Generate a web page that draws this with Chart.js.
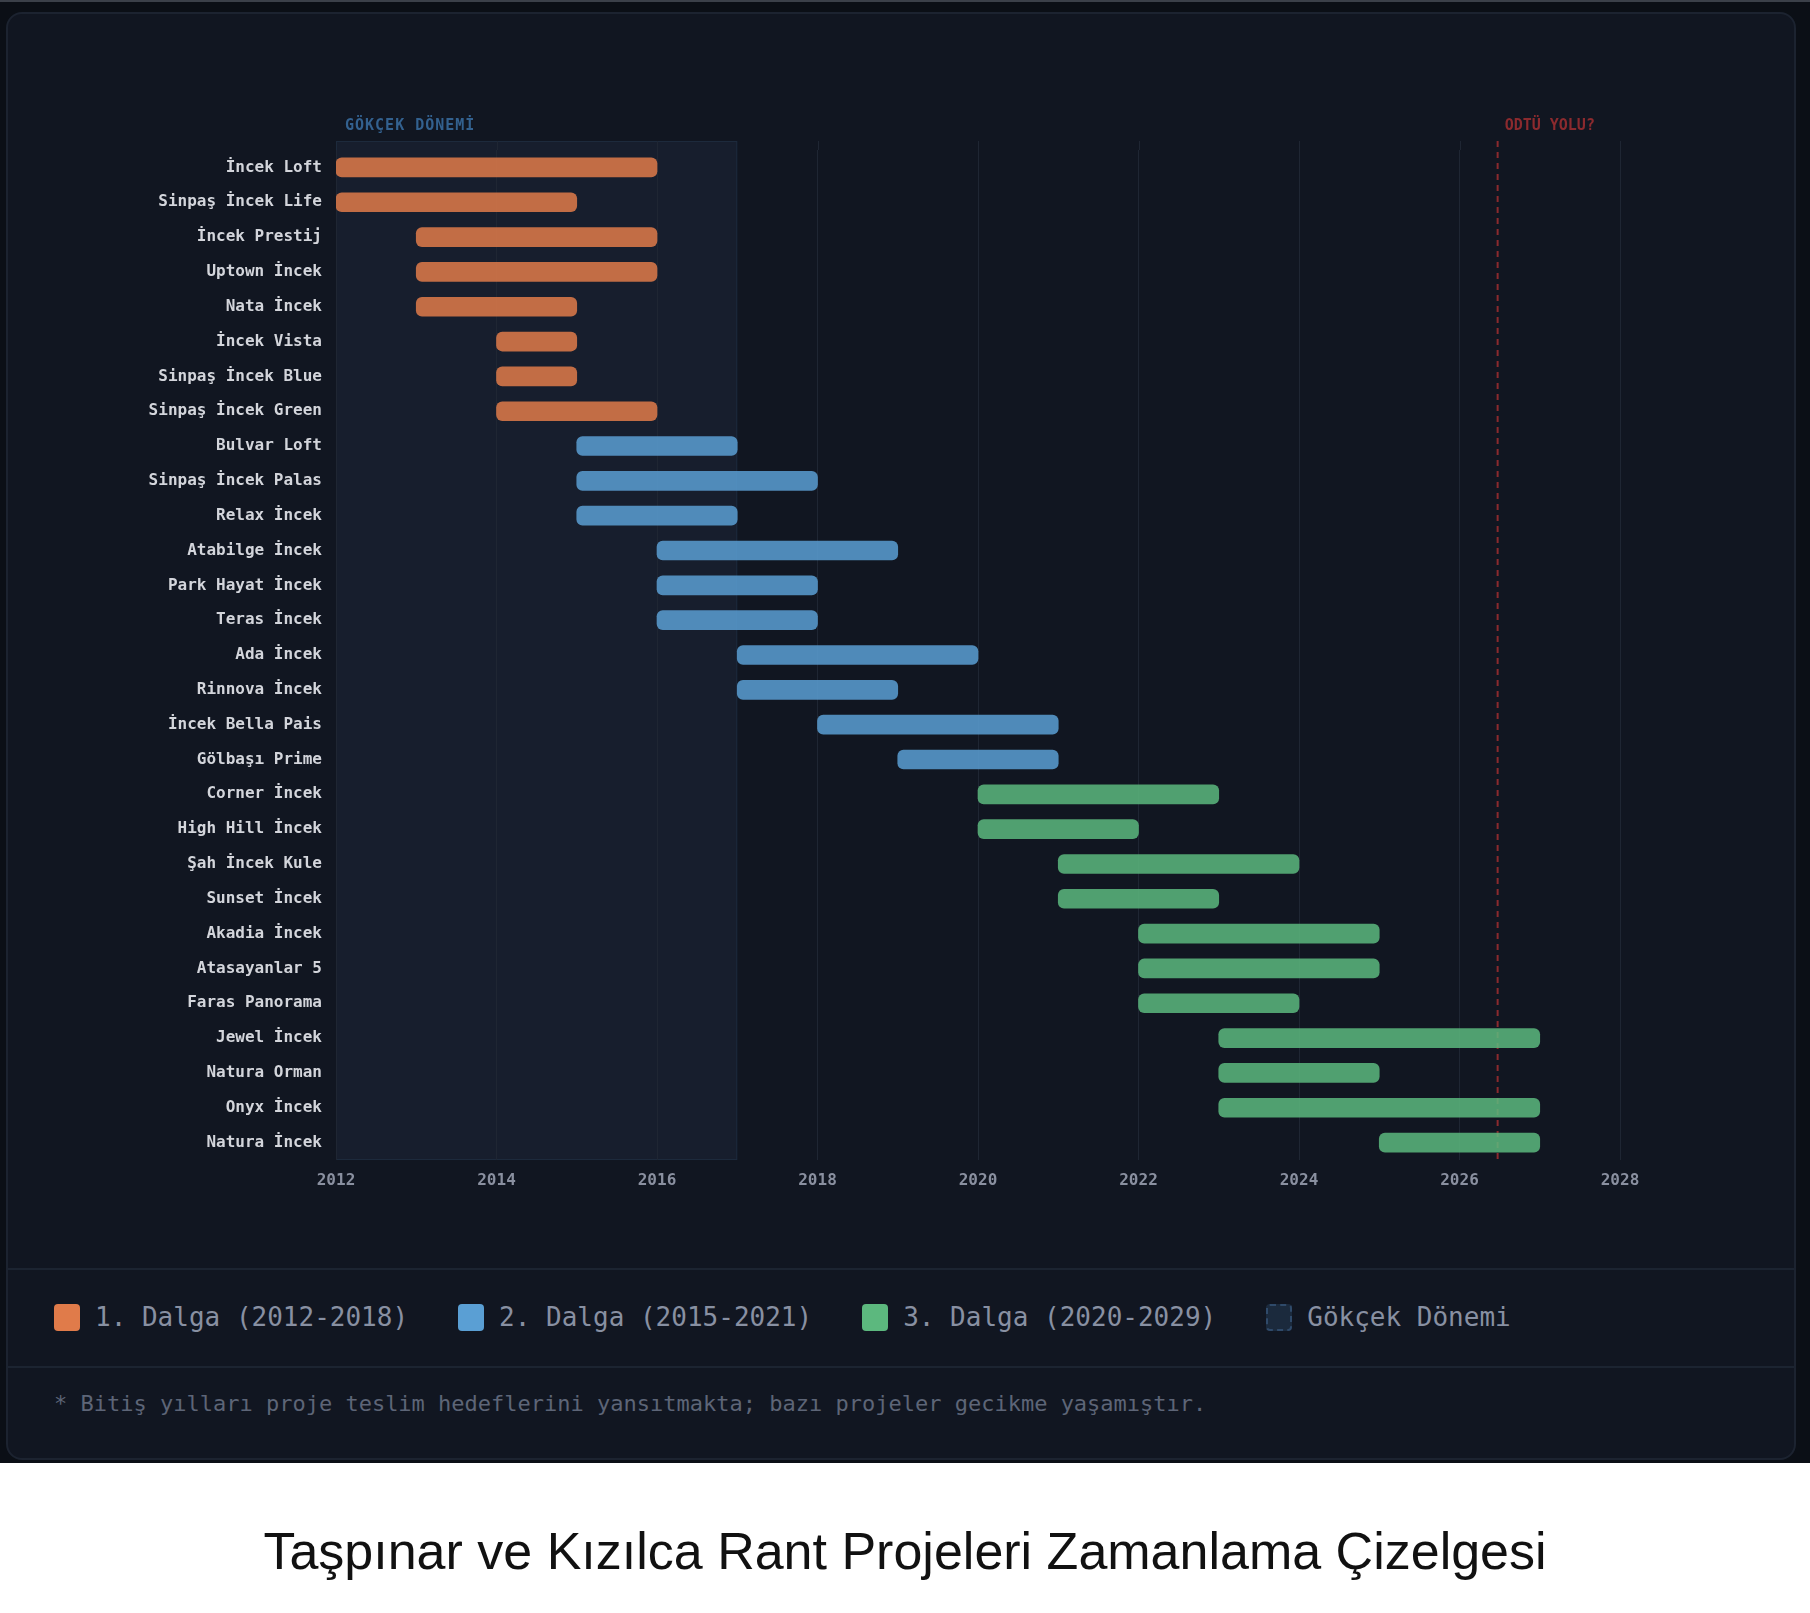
<!DOCTYPE html>
<html>
<head>
<meta charset="utf-8">
<script src="https://cdn.jsdelivr.net/npm/chart.js@4.4.1/dist/chart.umd.min.js"></script>
<style>
    body { margin: 0; background: #ffffff; }
    #page { position: relative; width: 1810px; height: 1613px; }
    #frame { position: absolute; left: 0; top: 0; width: 1810px; height: 1463px; background: #0b0f16; border-top: 2px solid #3b4049; box-sizing: border-box; }
    #card { position: absolute; left: 6px; top: 12px; width: 1790px; height: 1448px; background: #111621; border: 2px solid #1c2330; border-radius: 16px; box-sizing: border-box; }
    #chartBox { position: absolute; left: 0; top: 0; width: 1810px; height: 1265px; }
    .sep { position: absolute; left: 8px; width: 1786px; height: 2px; background: #1c2431; }
    #legend { position: absolute; left: 54px; top: 1303px; height: 28px; display: flex; align-items: center; font-family: "DejaVu Sans Mono", monospace; font-size: 26px; color: #8890a2; }
    .item { display: flex; align-items: center; margin-right: 50px; white-space: nowrap; }
    .swatch { width: 26px; height: 27px; border-radius: 4px; margin-right: 15px; box-sizing: border-box; }
    #note { position: absolute; left: 54px; top: 1391px; font-family: "DejaVu Sans Mono", monospace; font-size: 22px; color: #5d6577; white-space: nowrap; }
    #caption { position: absolute; left: 0; width: 1810px; top: 1521px; text-align: center; font-family: "Liberation Sans", Arial, sans-serif; font-size: 52px; color: #111111; }
</style>
</head>
<body>
<div id="page">
    <div id="frame"></div>
    <div id="card"></div>
    <div class="sep" style="top:1268px"></div>
    <div class="sep" style="top:1366px"></div>
    <div id="chartBox"><canvas id="timeline" width="1810" height="1265"></canvas></div>
    <div id="legend"></div>
    <div id="note">* Bitiş yılları proje teslim hedeflerini yansıtmakta; bazı projeler gecikme yaşamıştır.</div>
    <div id="caption">Taşpınar ve Kızılca Rant Projeleri Zamanlama Çizelgesi</div>
</div>

<script>
// project list (top to bottom)
const projects = [
    "İncek Loft", "Sinpaş İncek Life", "İncek Prestij", "Uptown İncek", "Nata İncek",
    "İncek Vista", "Sinpaş İncek Blue", "Sinpaş İncek Green", "Bulvar Loft", "Sinpaş İncek Palas",
    "Relax İncek", "Atabilge İncek", "Park Hayat İncek", "Teras İncek", "Ada İncek",
    "Rinnova İncek", "İncek Bella Pais", "Gölbaşı Prime", "Corner İncek", "High Hill İncek",
    "Şah İncek Kule", "Sunset İncek", "Akadia İncek", "Atasayanlar 5", "Faras Panorama",
    "Jewel İncek", "Natura Orman", "Onyx İncek", "Natura İncek"
];
const startYear = [2012, 2012, 2013, 2013, 2013, 2014, 2014, 2014, 2015, 2015,
                   2015, 2016, 2016, 2016, 2017, 2017, 2018, 2019, 2020, 2020,
                   2021, 2021, 2022, 2022, 2022, 2023, 2023, 2023, 2025];
const endYear = [2016, 2015, 2016, 2016, 2015, 2015, 2015, 2016, 2017, 2018,
                 2017, 2019, 2018, 2018, 2020, 2019, 2021, 2021, 2023, 2022,
                 2024, 2023, 2025, 2025, 2024, 2027, 2025, 2027, 2027];
const wave = [1, 1, 1, 1, 1, 1, 1, 1, 2, 2,
              2, 2, 2, 2, 2, 2, 2, 2, 3, 3,
              3, 3, 3, 3, 3, 3, 3, 3, 3];

const waveNames = ["1. Dalga (2012-2018)", "2. Dalga (2015-2021)", "3. Dalga (2020-2029)"];
const waveColors = ["#e07b4a", "#5a9fd4", "#5cb87e"];
const xTicks = [2012, 2028, 2];          // min, max, step
const gokcekPeriod = [2012, 2017];
const gokcekLabel = "GÖKÇEK DÖNEMİ";
const odtuYear = 2026.5;
const odtuLabel = "ODTÜ YOLU?";

function hexToRgba(hex, a) {
    const n = parseInt(hex.slice(1), 16);
    return 'rgba(' + (n >> 16) + ',' + ((n >> 8) & 255) + ',' + (n & 255) + ',' + a + ')';
}

// one dataset per wave, null where the project belongs to another wave
const datasets = waveNames.map((name, w) => ({
    label: name,
    data: projects.map((p, i) => wave[i] === w + 1 ? [startYear[i], endYear[i]] : null),
    backgroundColor: hexToRgba(waveColors[w], 0.85),
    borderWidth: 0,
    borderRadius: 6,
    borderSkipped: false,
    barThickness: 19,
    grouped: false
}));

// legend in html
let legendHtml = '';
waveNames.forEach((name, w) => {
    legendHtml += '<div class="item"><div class="swatch" style="background:' + waveColors[w] + '"></div>' + name + '</div>';
});
legendHtml += '<div class="item"><div class="swatch" style="background:#1b2a3d;border:2px dashed #2f4a6a"></div>Gökçek Dönemi</div>';
document.getElementById('legend').innerHTML = legendHtml;

const EXTRA_TOP = 9; // grid and shading start a bit above the first row

// shaded period, grid stubs, dashed line and the two small labels
const overlays = {
    id: 'overlays',
    beforeDraw(chart) {
        const { ctx, chartArea, scales } = chart;
        const x0 = scales.x.getPixelForValue(gokcekPeriod[0]);
        const x1 = scales.x.getPixelForValue(gokcekPeriod[1]);
        const top = chartArea.top - EXTRA_TOP;
        ctx.save();
        ctx.fillStyle = '#171e2d';
        ctx.fillRect(x0, top, x1 - x0, chartArea.bottom - top);
        ctx.strokeStyle = '#1d2a3c';
        ctx.lineWidth = 1;
        ctx.strokeRect(x0 + 0.5, top + 0.5, x1 - x0 - 1, chartArea.bottom - top - 1);
        // grid stubs above chart area
        ctx.strokeStyle = '#1f2633';
        for (let v = xTicks[0] + xTicks[2]; v <= xTicks[1]; v += xTicks[2]) {
            const x = Math.round(scales.x.getPixelForValue(v)) + 0.5;
            ctx.beginPath();
            ctx.moveTo(x, top);
            ctx.lineTo(x, chartArea.top);
            ctx.stroke();
        }
        ctx.restore();
    },
    beforeDatasetsDraw(chart) {
        const { ctx, chartArea, scales } = chart;
        const x = scales.x.getPixelForValue(odtuYear) - 2;
        ctx.save();
        ctx.strokeStyle = '#8b2a2e';
        ctx.lineWidth = 2;
        ctx.setLineDash([6, 5]);
        ctx.beginPath();
        ctx.moveTo(x, chartArea.top - EXTRA_TOP);
        ctx.lineTo(x, chartArea.bottom + 2);
        ctx.stroke();
        ctx.restore();
    },
    afterDraw(chart) {
        const { ctx, chartArea, scales } = chart;
        const y = chartArea.top - EXTRA_TOP - 15;
        ctx.save();
        ctx.textBaseline = 'middle';
        ctx.textAlign = 'left';
        ctx.font = 'bold 15px "DejaVu Sans Mono", monospace';
        ctx.letterSpacing = '1px';
        ctx.fillStyle = '#33618f';
        ctx.fillText(gokcekLabel, scales.x.getPixelForValue(gokcekPeriod[0]) + 9, y);
        ctx.letterSpacing = '0px';
        ctx.fillStyle = '#8b2a2e';
        ctx.fillText(odtuLabel, scales.x.getPixelForValue(odtuYear) + 5, y);
        ctx.restore();
    }
};

new Chart(document.getElementById('timeline'), {
    type: 'bar',
    data: {
        labels: projects,
        datasets: datasets
    },
    options: {
        indexAxis: 'y',
        responsive: false,
        animation: false,
        layout: {
            padding: { top: 150, right: 190, left: 0, bottom: 0 }
        },
        plugins: {
            legend: { display: false },
            tooltip: { enabled: false }
        },
        scales: {
            x: {
                type: 'linear',
                min: xTicks[0],
                max: xTicks[1],
                ticks: {
                    stepSize: xTicks[2],
                    color: '#8a90a0',
                    font: { family: '"DejaVu Sans Mono", monospace', size: 16, weight: 'bold' },
                    padding: 11,
                    callback: (v) => String(v)
                },
                grid: { color: '#1f2633', lineWidth: 1, drawTicks: false },
                border: { display: false },
                afterFit: (scale) => { scale.height = 105; }
            },
            y: {
                ticks: {
                    color: '#d3d5db',
                    font: { family: '"DejaVu Sans Mono", monospace', size: 16, weight: 'bold' },
                    padding: 6
                },
                grid: { display: false },
                border: { display: false },
                afterFit: (scale) => { scale.width = 336; }
            }
        }
    },
    plugins: [overlays]
});
</script>
</body>
</html>
